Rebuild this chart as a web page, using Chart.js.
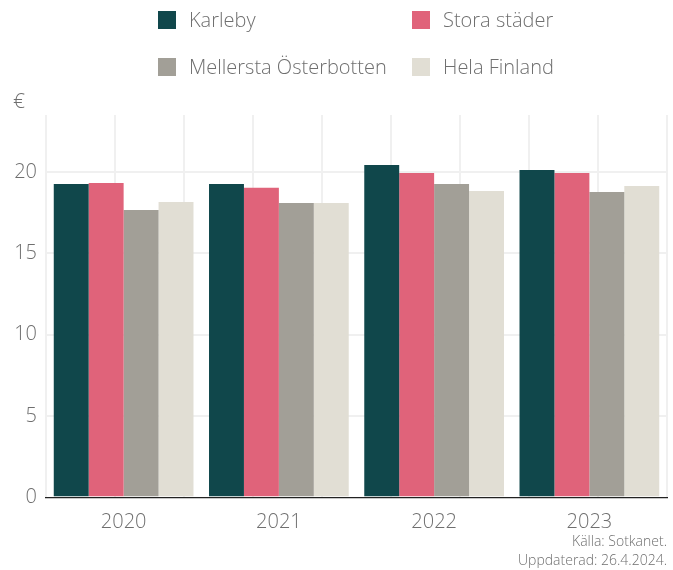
<!DOCTYPE html>
<html>
<head>
<meta charset="utf-8">
<script src="https://cdn.jsdelivr.net/npm/chart.js@4"></script>
<style>
  body { margin: 0; background: #fff; font-family: "Open Sans", Lato, sans-serif; font-weight: 300; }
  #wrap { position: relative; width: 673px; height: 570px; }
  #chart { position: absolute; left: 0; top: 0; }
  #legend {
    position: absolute; left: 158px; top: 8px;
    display: grid; grid-template-columns: 254px auto; row-gap: 24px;
    font-size: 20px; color: #6f6f6f;
  }
  .item { display: flex; align-items: center; height: 23px; white-space: nowrap; }
  .box { width: 18px; height: 18px; margin-right: 13px; }
  #unit { position: absolute; left: 13px; top: 86px; font-size: 21px; color: #6f6f6f; }
</style>
</head>
<body>
<div id="wrap">
  <canvas id="chart" width="673" height="570"></canvas>
  <div id="legend"></div>
  <div id="unit">€</div>
</div>
<script>
// Data
const years = ['2020', '2021', '2022', '2023'];
const seriesNames = ['Karleby', 'Stora städer', 'Mellersta Österbotten', 'Hela Finland'];
const karleby = [19.26, 19.26, 20.43, 20.12];
const storaStader = [19.32, 19.02, 19.94, 19.94];
const mellersta = [17.66, 18.09, 19.26, 18.77];
const helaFinland = [18.15, 18.09, 18.83, 19.14];
const yTicks = [0, 5, 10, 15, 20];
const colors = ['#10474b', '#e0637a', '#a29f97', '#e1ded4'];

const values = [karleby, storaStader, mellersta, helaFinland];
const textColor = '#6f6f6f';
const fontFamily = '"Open Sans", Lato, sans-serif';

// HTML legend in two columns like the original
const legendEl = document.getElementById('legend');
seriesNames.forEach((name, i) => {
    const item = document.createElement('div');
    item.className = 'item';
    item.innerHTML = `<span class="box" style="background:${colors[i]}"></span><span>${name}</span>`;
    legendEl.appendChild(item);
});

const ctx = document.getElementById('chart').getContext('2d');
new Chart(ctx, {
    type: 'bar',
    data: {
        labels: years,
        datasets: seriesNames.map((name, i) => ({
            label: name,
            data: values[i],
            backgroundColor: colors[i],
            categoryPercentage: 0.9,
            barPercentage: 1.0
        }))
    },
    options: {
        responsive: false,
        animation: false,
        layout: { padding: { top: 115, right: 6, left: 0, bottom: 0 } },
        scales: {
            x: {
                grid: { display: false },
                border: { display: true, color: '#222', width: 1.2 },
                ticks: { color: textColor, padding: 5, font: { family: fontFamily, size: 20, weight: 300 } },
                afterFit: (scale) => { scale.height = 34; }
            },
            // hidden linear axis only used for vertical grid lines (group edges and centres)
            xGrid: {
                type: 'linear',
                position: 'bottom',
                min: -0.5,
                max: 3.5,
                ticks: { display: false, stepSize: 0.5 },
                grid: { color: '#f0f0f0', lineWidth: 2, drawTicks: false },
                border: { display: false },
                afterFit: (scale) => { scale.height = 0; }
            },
            y: {
                min: 0,
                max: 23.5,
                afterBuildTicks: (axis) => { axis.ticks = yTicks.map(v => ({ value: v })); },
                ticks: { color: textColor, padding: 9, font: { family: fontFamily, size: 20, weight: 300 } },
                grid: {
                    color: (c) => c.tick && c.tick.value === 0 ? 'rgba(0,0,0,0)' : '#f0f0f0',
                    lineWidth: 2,
                    drawTicks: false
                },
                border: { display: false },
                afterFit: (scale) => { scale.width = 46; }
            }
        },
        plugins: {
            legend: { display: false },
            tooltip: { enabled: false },
            title: {
                display: true,
                position: 'bottom',
                align: 'end',
                text: ['Källa: Sotkanet.', 'Uppdaterad: 26.4.2024.'],
                color: textColor,
                font: { family: fontFamily, size: 14, weight: 300, lineHeight: 1.35 },
                padding: { top: 1, bottom: 0 }
            }
        }
    }
});
</script>
</body>
</html>
